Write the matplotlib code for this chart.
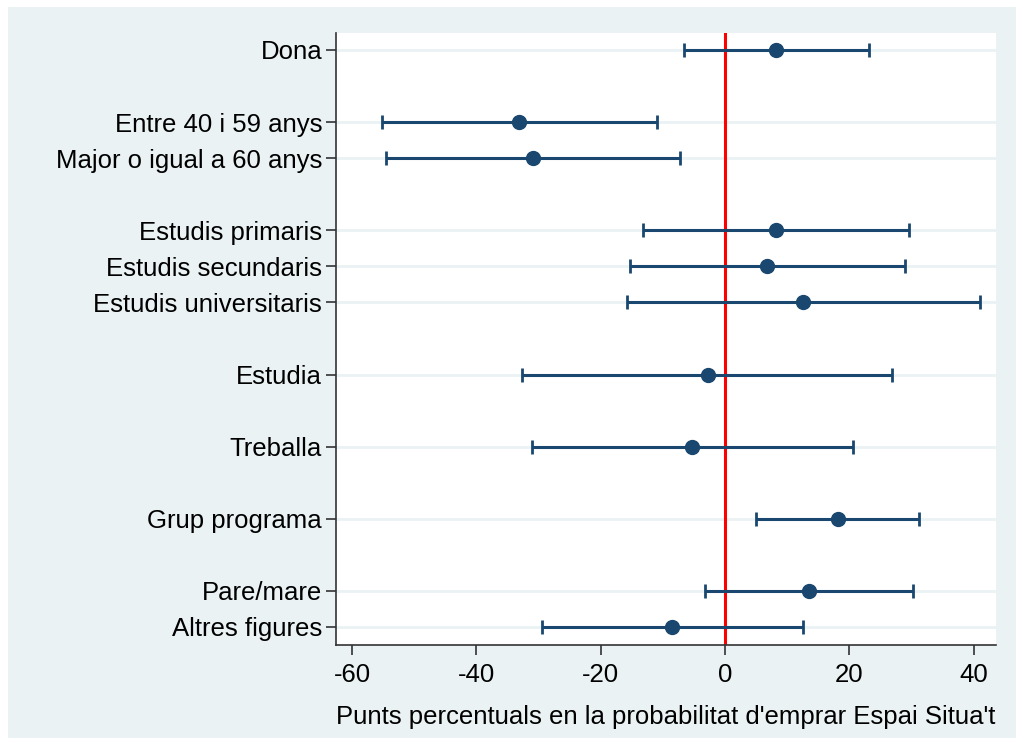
import numpy as np
import matplotlib
matplotlib.use("Agg")
import matplotlib.pyplot as plt
from matplotlib.patches import Rectangle

## Data:
labels = ["Dona", "Entre 40 i 59 anys", "Major o igual a 60 anys",
          "Estudis primaris", "Estudis secundaris", "Estudis universitaris",
          "Estudia", "Treballa", "Grup programa", "Pare/mare", "Altres figures"]
positions = [0, 2, 3, 5, 6, 7, 9, 11, 13, 15, 16]
coef = [8.2, -33.1, -30.9, 8.2, 6.7, 12.5, -2.7, -5.3, 18.1, 13.5, -8.5]
lower = [-6.6, -55.2, -54.5, -13.2, -15.3, -15.7, -32.6, -31.1, 5.0, -3.3, -29.5]
upper = [23.1, -10.9, -7.2, 29.6, 28.9, 41.0, 26.9, 20.6, 31.2, 30.3, 12.5]
xticks = [-60, -40, -20, 0, 20, 40]
xlabel = "Punts percentuals en la probabilitat d'emprar Espai Situa't"

plt.rcParams['font.family'] = ['Liberation Sans', 'DejaVu Sans']

navy = "#1A476F"
bg = "#EAF2F3"

fig = plt.figure(figsize=(10.16, 7.4), dpi=100, facecolor="white")
# outer graph region (Stata style)
fig.patches.append(Rectangle((8 / 1016, 2 / 740), 1 - 8 / 1016, 731 / 740,
                             transform=fig.transFigure, facecolor=bg,
                             edgecolor="none", zorder=-10))

ax = fig.add_axes([336 / 1016, 95 / 740, 660 / 1016, 612 / 740])
ax.set_facecolor("white")

coef = np.array(coef)
err = np.array([coef - np.array(lower), np.array(upper) - coef])

for p in positions:
    ax.axhline(p, color=bg, lw=2, zorder=1)

ax.axvline(0, color="#FF0000", lw=2.2, zorder=2)

ax.errorbar(coef, positions, xerr=err, fmt="o", color=navy, ecolor=navy,
            markersize=10, elinewidth=2.2, capsize=5, capthick=2, zorder=3)

ax.set_ylim(16.5, -0.47)
ax.set_xlim(-62.6, 43.6)
ax.set_yticks(positions)
ax.set_yticklabels(labels)
ax.set_xticks(xticks)
ax.set_xticklabels([str(t) for t in xticks])

for s in ["top", "right"]:
    ax.spines[s].set_visible(False)
for s in ["left", "bottom"]:
    ax.spines[s].set_color("#333333")
    ax.spines[s].set_linewidth(1.2)

ax.tick_params(axis="both", direction="out", length=7, width=1.2,
               color="#333333", labelsize=18.5)
ax.tick_params(axis="y", pad=3)
ax.tick_params(axis="x", pad=6)
ax.set_xlabel(xlabel, fontsize=18.5, labelpad=13)

fig.savefig("out.png", dpi=100, facecolor=fig.get_facecolor())
